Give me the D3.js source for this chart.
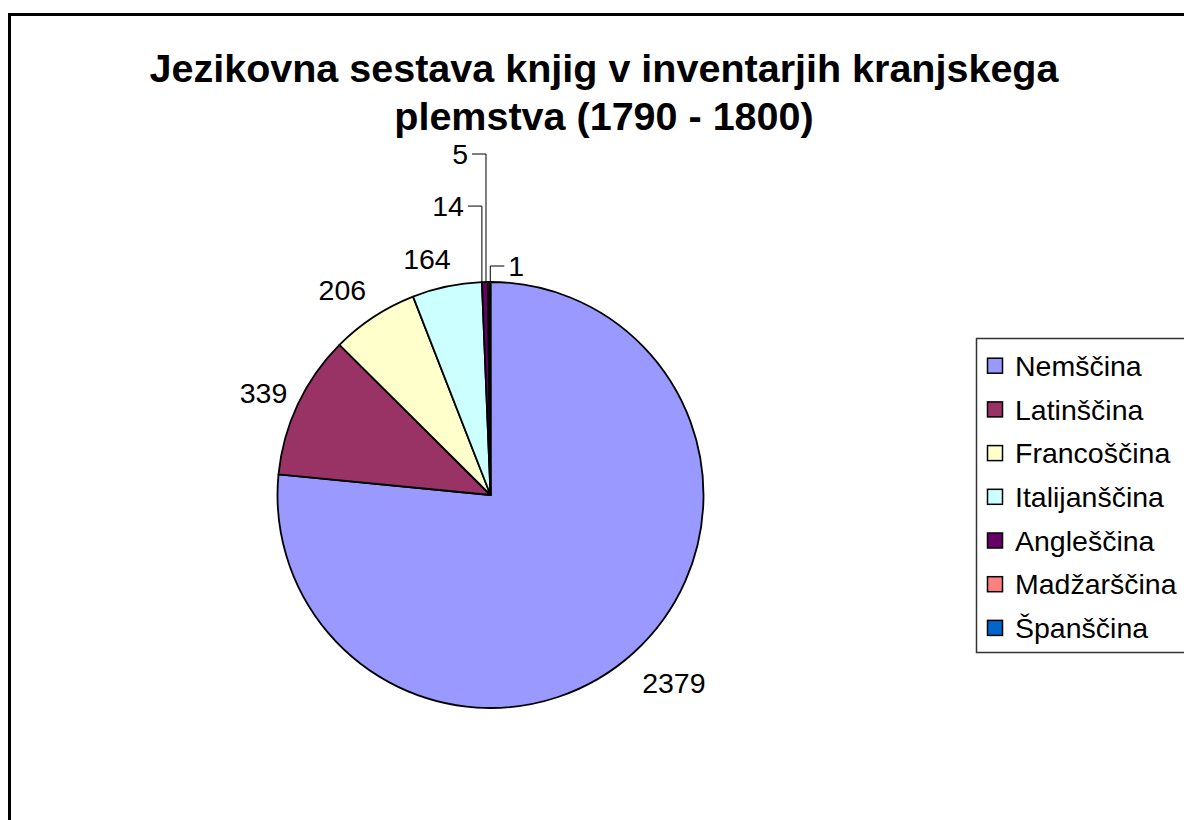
<!DOCTYPE html>
<html>
<head>
<meta charset="utf-8">
<script src="https://cdn.jsdelivr.net/npm/d3@7"></script>
<style>
  body { margin: 0; background: #fff; }
  svg { display: block; }
  text { font-family: "Liberation Sans", Arial, sans-serif; fill: #000; }
</style>
</head>
<body>
<div id="chart"></div>
<script>
// Data
var languages = ["Nemščina", "Latinščina", "Francoščina", "Italijanščina", "Angleščina", "Madžarščina", "Španščina"];
var books = [2379, 339, 206, 164, 14, 5, 1];
var colors = ["#9999ff", "#993366", "#ffffcc", "#ccffff", "#660066", "#ff8080", "#0066cc"];
var titleLines = ["Jezikovna sestava knjig v inventarjih kranjskega", "plemstva (1790 - 1800)"];

// Page size
var width = 1184, height = 820;
var cx = 490.5, cy = 495, radius = 213;
var fontSize = 28.5;

var svg = d3.select("#chart")
  .append("svg")
  .attr("width", width)
  .attr("height", height);

// Chart frame (runs past the right and bottom of the window)
svg.append("rect")
  .attr("x", 9.5)
  .attr("y", 14.5)
  .attr("width", 1300)
  .attr("height", 900)
  .attr("fill", "none")
  .attr("stroke", "#000")
  .attr("stroke-width", 3);

// Title
svg.append("g")
  .selectAll("text")
  .data(titleLines)
  .enter()
  .append("text")
  .attr("x", 604)
  .attr("y", function(d, i) { return 82 + i * 48; })
  .attr("text-anchor", "middle")
  .attr("font-size", 39.5)
  .attr("font-weight", "bold")
  .text(function(d) { return d; });

// Pie (Excel style: from 12 o'clock, clockwise)
var slices = languages.map(function(name, i) {
  return { name: name, value: books[i], color: colors[i] };
});

var pie = d3.pie()
  .value(function(d) { return d.value; })
  .sort(null);

var arc = d3.arc()
  .innerRadius(0)
  .outerRadius(radius);

var arcs = pie(slices);

var g = svg.append("g")
  .attr("transform", "translate(" + cx + "," + cy + ")");

g.selectAll(".slice")
  .data(arcs)
  .enter()
  .append("path")
  .attr("class", "slice")
  .attr("d", arc)
  .attr("fill", function(d) { return d.data.color; })
  .attr("stroke", "#000")
  .attr("stroke-width", 1.8)
  .attr("stroke-linejoin", "round");

// Label layout: big slices sit on a ring, small ones get a leader line
var labelRadius = 252;
var labelNudge = [[14, 1], [1, 5], [-10, 5], [-12, 10]];
var leaders = [
  null, null, null, null,
  { side: -1, lift: 76, arm: 14, shift: -3 },
  { side: -1, lift: 128, arm: 14, shift: -3 },
  { side: 1, lift: 16, arm: 14, shift: 0 }
];

function midAngle(d) { return (d.startAngle + d.endAngle) / 2; }

arcs.forEach(function(d, i) {
  var a = midAngle(d);
  var dx = Math.sin(a), dy = -Math.cos(a);
  if (!leaders[i]) {
    var n = labelNudge[i] || [0, 0];
    g.append("text")
      .attr("x", dx * labelRadius + n[0])
      .attr("y", dy * labelRadius + n[1])
      .attr("dy", "0.36em")
      .attr("text-anchor", "middle")
      .attr("font-size", fontSize)
      .text(d.data.value);
  } else {
    var L = leaders[i];
    var px = dx * radius + L.shift, py = dy * radius;
    var ly = py - L.lift;
    var ex = px + L.side * L.arm;
    g.append("polyline")
      .attr("points", [[px, py], [px, ly], [ex, ly]].map(function(p) { return p.join(","); }).join(" "))
      .attr("fill", "none")
      .attr("stroke", "#000")
      .attr("stroke-width", 1);
    g.append("text")
      .attr("x", ex + L.side * 4)
      .attr("y", ly)
      .attr("dy", "0.36em")
      .attr("text-anchor", L.side < 0 ? "end" : "start")
      .attr("font-size", fontSize)
      .text(d.data.value);
  }
});

// Legend
var legend = svg.append("g");

legend.append("rect")
  .attr("x", 976.5)
  .attr("y", 338.5)
  .attr("width", 400)
  .attr("height", 314)
  .attr("fill", "#fff")
  .attr("stroke", "#333")
  .attr("stroke-width", 1.5);

var rows = legend.selectAll(".row")
  .data(slices)
  .enter()
  .append("g")
  .attr("class", "row")
  .attr("transform", function(d, i) { return "translate(0," + (365.7 + i * 43.7) + ")"; });

rows.append("rect")
  .attr("x", 987.5)
  .attr("y", -7.5)
  .attr("width", 15)
  .attr("height", 15)
  .attr("fill", function(d) { return d.color; })
  .attr("stroke", "#000")
  .attr("stroke-width", 1.5);

rows.append("text")
  .attr("x", 1015)
  .attr("y", 0)
  .attr("dy", "0.36em")
  .attr("font-size", fontSize)
  .text(function(d) { return d.name; });
</script>
</body>
</html>
